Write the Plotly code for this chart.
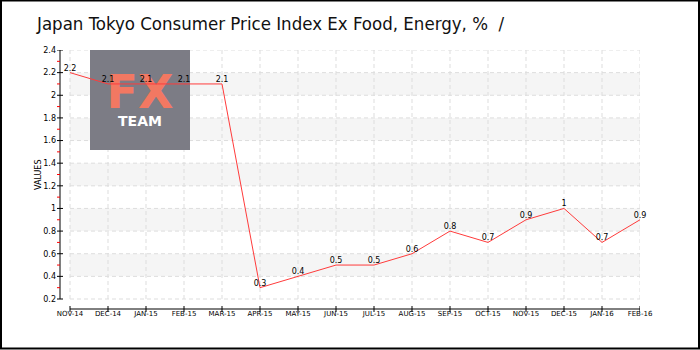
import plotly.graph_objects as go

months = ["NOV-14", "DEC-14", "JAN-15", "FEB-15", "MAR-15", "APR-15", "MAY-15", "JUN-15",
          "JUL-15", "AUG-15", "SEP-15", "OCT-15", "NOV-15", "DEC-15", "JAN-16", "FEB-16"]
values = [2.2, 2.1, 2.1, 2.1, 2.1, 0.3, 0.4, 0.5, 0.5, 0.6, 0.8, 0.7, 0.9, 1.0, 0.7, 0.9]
y_ticks = [0.2, 0.4, 0.6, 0.8, 1.0, 1.2, 1.4, 1.6, 1.8, 2.0, 2.2, 2.4]
y_tick_labels = ["0.2", "0.4", "0.6", "0.8", "1", "1.2", "1.4", "1.6", "1.8", "2", "2.2", "2.4"]
title_text = "Japan Tokyo Consumer Price Index Ex Food, Energy, %  /"

W, H = 700, 350
L, R, T, B = 60, 640, 50, 309
pw, ph = R - L, B - T
n = len(months)
xi = list(range(n))
step_px = 570 / (n - 1)
x_lo = -10 / step_px
x_hi = n - 1
y_step_px = (299 - 50) / (len(y_ticks) - 1)
y_lo = y_ticks[0] - 10 / y_step_px * 0.2
y_hi = y_ticks[-1]


def px_x(p):
    return (p - L) / pw


def px_y(p):
    return (B - p) / ph


def dx(p):
    return x_lo + px_x(p) * (x_hi - x_lo)


def dy(p):
    return y_lo + px_y(p) * (y_hi - y_lo)


fig = go.Figure()
# logo lettering (behind the data line)
fig.add_trace(go.Scatter(
    x=[dx(140), dx(140)], y=[dy(96), dy(122)], mode="text",
    text=["<b>FX</b>", "<b>TEAM</b>"], textposition="middle center",
    textfont=dict(family="DejaVu Sans", size=[46, 14], color=["#f27862", "#ffffff"]),
    hoverinfo="skip", showlegend=False, cliponaxis=False,
))
fig.add_trace(go.Scatter(
    x=xi, y=values, mode="lines+text",
    line=dict(color="#ff3b3b", width=1),
    text=[("%g" % v) for v in values], textposition="top center",
    textfont=dict(family="DejaVu Sans", size=8, color="#000"),
    cliponaxis=False, hoverinfo="skip", showlegend=False,
))

shapes = []
# alternating bands
for i in range(len(y_ticks) - 1):
    if i % 2 == 1:
        shapes.append(dict(type="rect", xref="x", yref="y", x0=0, x1=n - 1,
                           y0=y_ticks[i], y1=y_ticks[i + 1], fillcolor="#f5f5f5",
                           line=dict(width=0), layer="below"))
# horizontal dashed grid
for v in y_ticks:
    shapes.append(dict(type="line", xref="x", yref="y", x0=0, x1=n - 1, y0=v, y1=v,
                       line=dict(color="#dddddd", width=1, dash="4px,3px"), layer="below"))
# vertical dashed grid
for i in xi:
    shapes.append(dict(type="line", xref="x", yref="y", x0=i, x1=i, y0=y_ticks[0], y1=y_hi,
                       line=dict(color="#dddddd", width=1, dash="4px,3px"), layer="below"))
# logo box (in data coords so it stacks above the bands)
shapes.append(dict(type="rect", xref="x", yref="y", x0=dx(90), x1=dx(190),
                   y0=dy(150), y1=dy(50), fillcolor="#7c7c85", line=dict(width=0),
                   layer="below"))
# axis lines
shapes.append(dict(type="line", xref="paper", yref="y", x0=0, x1=0, y0=y_ticks[0], y1=y_hi,
                   line=dict(color="#000", width=1)))
shapes.append(dict(type="line", xref="x", yref="paper", x0=0, x1=n - 1, y0=0, y1=0,
                   line=dict(color="#000", width=1)))
# major y ticks crossing the axis, red minor ticks to the left
for v in y_ticks:
    shapes.append(dict(type="line", xref="paper", yref="y", x0=px_x(57), x1=px_x(63), y0=v, y1=v,
                       line=dict(color="#000", width=1)))
for a, b in zip(y_ticks[:-1], y_ticks[1:]):
    m = (a + b) / 2
    shapes.append(dict(type="line", xref="paper", yref="y", x0=px_x(57), x1=px_x(60), y0=m, y1=m,
                       line=dict(color="#ff0000", width=1)))
# x ticks crossing the axis
for i in xi:
    shapes.append(dict(type="line", xref="x", yref="paper", x0=i, x1=i, y0=px_y(306), y1=px_y(312),
                       line=dict(color="#000", width=1)))
# frame
shapes.append(dict(type="rect", xref="paper", yref="paper", x0=px_x(1), x1=px_x(699),
                   y0=px_y(348.5), y1=px_y(0.5), line=dict(color="#000", width=2)))

annotations = [
    dict(text=title_text, xref="paper", yref="paper", x=px_x(34), y=px_y(24),
         xanchor="left", yanchor="middle", showarrow=False,
         font=dict(family="DejaVu Sans Condensed", size=18.5, color="#111")),
    dict(text="VALUES", xref="paper", yref="paper", x=px_x(38), y=px_y(175),
         textangle=-90, xanchor="center", yanchor="middle", showarrow=False,
         font=dict(family="DejaVu Sans", size=8, color="#000")),
]

fig.update_layout(
    width=W, height=H, margin=dict(l=L, r=W - R, t=T, b=H - B),
    paper_bgcolor="#fff", plot_bgcolor="rgba(0,0,0,0)",
    shapes=shapes, annotations=annotations,
    xaxis=dict(range=[x_lo, x_hi], tickmode="array", tickvals=xi, ticktext=months,
               showgrid=False, zeroline=False, showline=False, ticks="",
               ticklabelstandoff=-1,
               tickfont=dict(family="DejaVu Sans", size=7, color="#000")),
    yaxis=dict(range=[y_lo, y_hi], tickmode="array", tickvals=y_ticks, ticktext=y_tick_labels,
               showgrid=False, zeroline=False, showline=False, ticks="",
               ticklabelstandoff=3,
               tickfont=dict(family="DejaVu Sans", size=8, color="#000")),
)

fig.write_html("out.html")
